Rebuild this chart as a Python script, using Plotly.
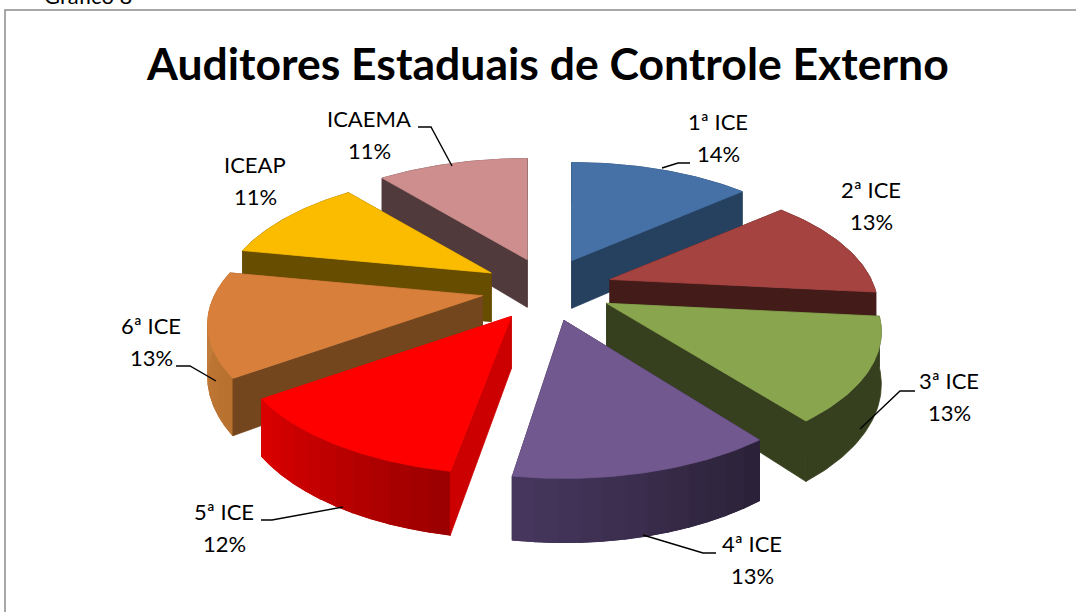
import math
import plotly.graph_objects as go

# --- data ---
categories = ["1ª ICE", "2ª ICE", "3ª ICE", "4ª ICE", "5ª ICE", "6ª ICE", "ICEAP", "ICAEMA"]
shares = [13.5, 13.1, 13.1, 13.1, 12.2, 13.0, 11.0, 10.9]
title_text = "Auditores Estaduais de Controle Externo"

# --- style ---
top_colors = ["#4571A7", "#A54340", "#89A54E", "#71588F", "#FF0000", "#D8803B", "#FBBC00", "#CE8E8D"]
radial_colors = ["#26405F", "#431C19", "#37401E", "#2B2238", "#CC0000", "#74461E", "#664D00", "#513A3B"]
# rim colour at the start and at the end of each slice (clockwise)
rim_colors = [("#26405F", "#26405F"), ("#431C19", "#431C19"), ("#37401E", "#37401E"),
              ("#2A2137", "#47375F"), ("#990000", "#DD0000"), ("#B8702F", "#C6813F"),
              ("#664D00", "#664D00"), ("#513A3B", "#513A3B")]

# --- projection (pixel-based axes) ---
CX, CY = 548.0, 289.0
EXPLODE, EXPLODE_KY = 65.0, 0.48
R, KY, PERSP = 268.0, 0.46, 0.22
H0 = 50.0
radius_scale = [0.97, 0.975, 1.0, 1.0, 1.0, 1.0, 0.985, 1.0]
apex_nudge = [(-3, 0), (0, 0), (2, -1), (1, 1), (-2, 1), (-2, 0), (-1, 0), (1, 0)]
end_trim_deg = [0, 0, 1.0, 1.6, 0, 0, 0, 0]


def hex2rgb(c):
    return [int(c[i:i + 2], 16) for i in (1, 3, 5)]


def mix(a, b, t):
    pa, pb = hex2rgb(a), hex2rgb(b)
    return "#%02x%02x%02x" % tuple(round(x + (y - x) * t) for x, y in zip(pa, pb))


def persp(c):
    return 1.0 / (1.0 + PERSP * c)


def rim_pt(ax, ay, deg, scale):
    t = math.radians(deg)
    f = persp(math.cos(t))
    return ax + scale * R * math.sin(t) * f, ay - scale * R * KY * math.cos(t) * f, H0 * f


fig = go.Figure()


def poly(pts, color, width=0.8):
    fig.add_trace(go.Scatter(
        x=[p[0] for p in pts] + [pts[0][0]],
        y=[p[1] for p in pts] + [pts[0][1]],
        mode="lines", fill="toself", fillcolor=color,
        line=dict(color=color, width=width),
        hoverinfo="skip", showlegend=False,
    ))


# build slices from the shares
total = sum(shares)
slices = []
acc = 0.0
for i, v in enumerate(shares):
    a0 = acc / total * 360
    acc += v
    a1 = acc / total * 360
    m = math.radians((a0 + a1) / 2)
    ax = CX + EXPLODE * math.sin(m) + apex_nudge[i][0]
    ay = CY - EXPLODE * EXPLODE_KY * math.cos(m) + apex_nudge[i][1]
    slices.append(dict(i=i, a0=a0, a1=a1 - end_trim_deg[i], ax=ax, ay=ay, depth=math.cos(m)))

# painter's order: back to front
order = [0, 7, 1, 6, 5, 2, 4, 3]
for i in order:
    s = slices[i]
    ax, ay, a0, a1 = s["ax"], s["ay"], s["a0"], s["a1"]
    apex_h = H0 * persp(s["depth"] * EXPLODE / R)
    n = 48
    angs = [a0 + (a1 - a0) * k / n for k in range(n + 1)]
    rim = [rim_pt(ax, ay, a, radius_scale[i]) for a in angs]
    c0, c1 = rim_colors[i]


    def radial_wall(e):
        return [(ax, ay), (e[0], e[1]), (e[0], e[1] + e[2]), (ax, ay + apex_h)]


    # a radial wall faces the viewer when its outward normal points to the front
    start_visible = math.cos(math.radians(a0 - 90)) < 0
    end_visible = math.cos(math.radians(a1 + 90)) < 0
    if not start_visible:
        poly(radial_wall(rim[0]), radial_colors[i])
    if not end_visible:
        poly(radial_wall(rim[-1]), radial_colors[i])
    # rim wall: one solid band, then colour steps for the gradient
    band = [(r[0], r[1]) for r in rim] + [(r[0], r[1] + r[2]) for r in reversed(rim)]
    poly(band, mix(c0, c1, 0.5))
    if c0 != c1:
        steps = 12
        for j in range(steps):
            lo, hi = j * n // steps, (j + 1) * n // steps
            seg = rim[lo:hi + 1]
            pts = [(r[0], r[1]) for r in seg] + [(r[0], r[1] + r[2]) for r in reversed(seg)]
            poly(pts, mix(c0, c1, (j + .5) / steps), width=1.2)
    if start_visible:
        poly(radial_wall(rim[0]), radial_colors[i])
    if end_visible:
        poly(radial_wall(rim[-1]), radial_colors[i])
    poly([(ax, ay)] + [(r[0], r[1]) for r in rim], top_colors[i])

# leader lines
leaders = [
    [(662, 168), (678, 163), (690, 163)],
    None,
    [(860, 429), (900, 391), (915, 391)],
    [(643, 535), (703, 553), (716, 553)],
    [(343, 507), (272, 520), (261, 520)],
    [(216, 381), (190, 366), (176, 366)],
    None,
    [(452, 166), (431, 127), (418, 127)],
]
for ln in leaders:
    if ln:
        fig.add_trace(go.Scatter(x=[p[0] for p in ln], y=[p[1] for p in ln], mode="lines",
                                 line=dict(color="#000000", width=1.4),
                                 hoverinfo="skip", showlegend=False))

# frame (continues past the right and bottom edges of the picture)
fig.add_trace(go.Scatter(x=[5, 5, 1080], y=[620, 10, 10], mode="lines",
                         line=dict(color="#8C8C8C", width=1.5),
                         hoverinfo="skip", showlegend=False))

label_pos = [(718, 121), (871, 189), (949, 380), (752, 543), (224, 511), (151, 325), (255, 164), (369, 118)]
LINE_GAP = 32
annotations = []
for name, v, (lx, ly) in zip(categories, shares, label_pos):
    for txt, yy in ((name, ly), (f"{v:.0f}%", ly + LINE_GAP)):
        annotations.append(dict(x=lx, y=yy, xref="x", yref="y", text=txt, showarrow=False,
                                xanchor="center", yanchor="middle",
                                font=dict(family="Lato", size=22, color="#000000")))
annotations.append(dict(x=547, y=62, xref="x", yref="y", text=f"<b>{title_text}</b>", showarrow=False,
                        xanchor="center", yanchor="middle",
                        font=dict(family="Lato", size=44.5, color="#000000")))
# the reference shows only the bottom sliver of this caption at the top edge
annotations.append(dict(x=42, y=0, xref="x", yref="y", text="Gráfico 8", showarrow=False,
                        xanchor="left", yanchor="middle", yshift=5,
                        font=dict(family="Lato", size=22, color="#000000")))

fig.update_layout(
    width=1076, height=612, autosize=False,
    margin=dict(l=0, r=0, t=0, b=0),
    paper_bgcolor="#FFFFFF", plot_bgcolor="#FFFFFF",
    xaxis=dict(range=[0, 1076], visible=False, fixedrange=True),
    yaxis=dict(range=[612, 0], visible=False, fixedrange=True),
    annotations=annotations,
    showlegend=False,
)

fig.write_html("out.html", config={"displayModeBar": False},
               post_script="document.body.style.margin='0';document.documentElement.style.overflow='hidden';")
